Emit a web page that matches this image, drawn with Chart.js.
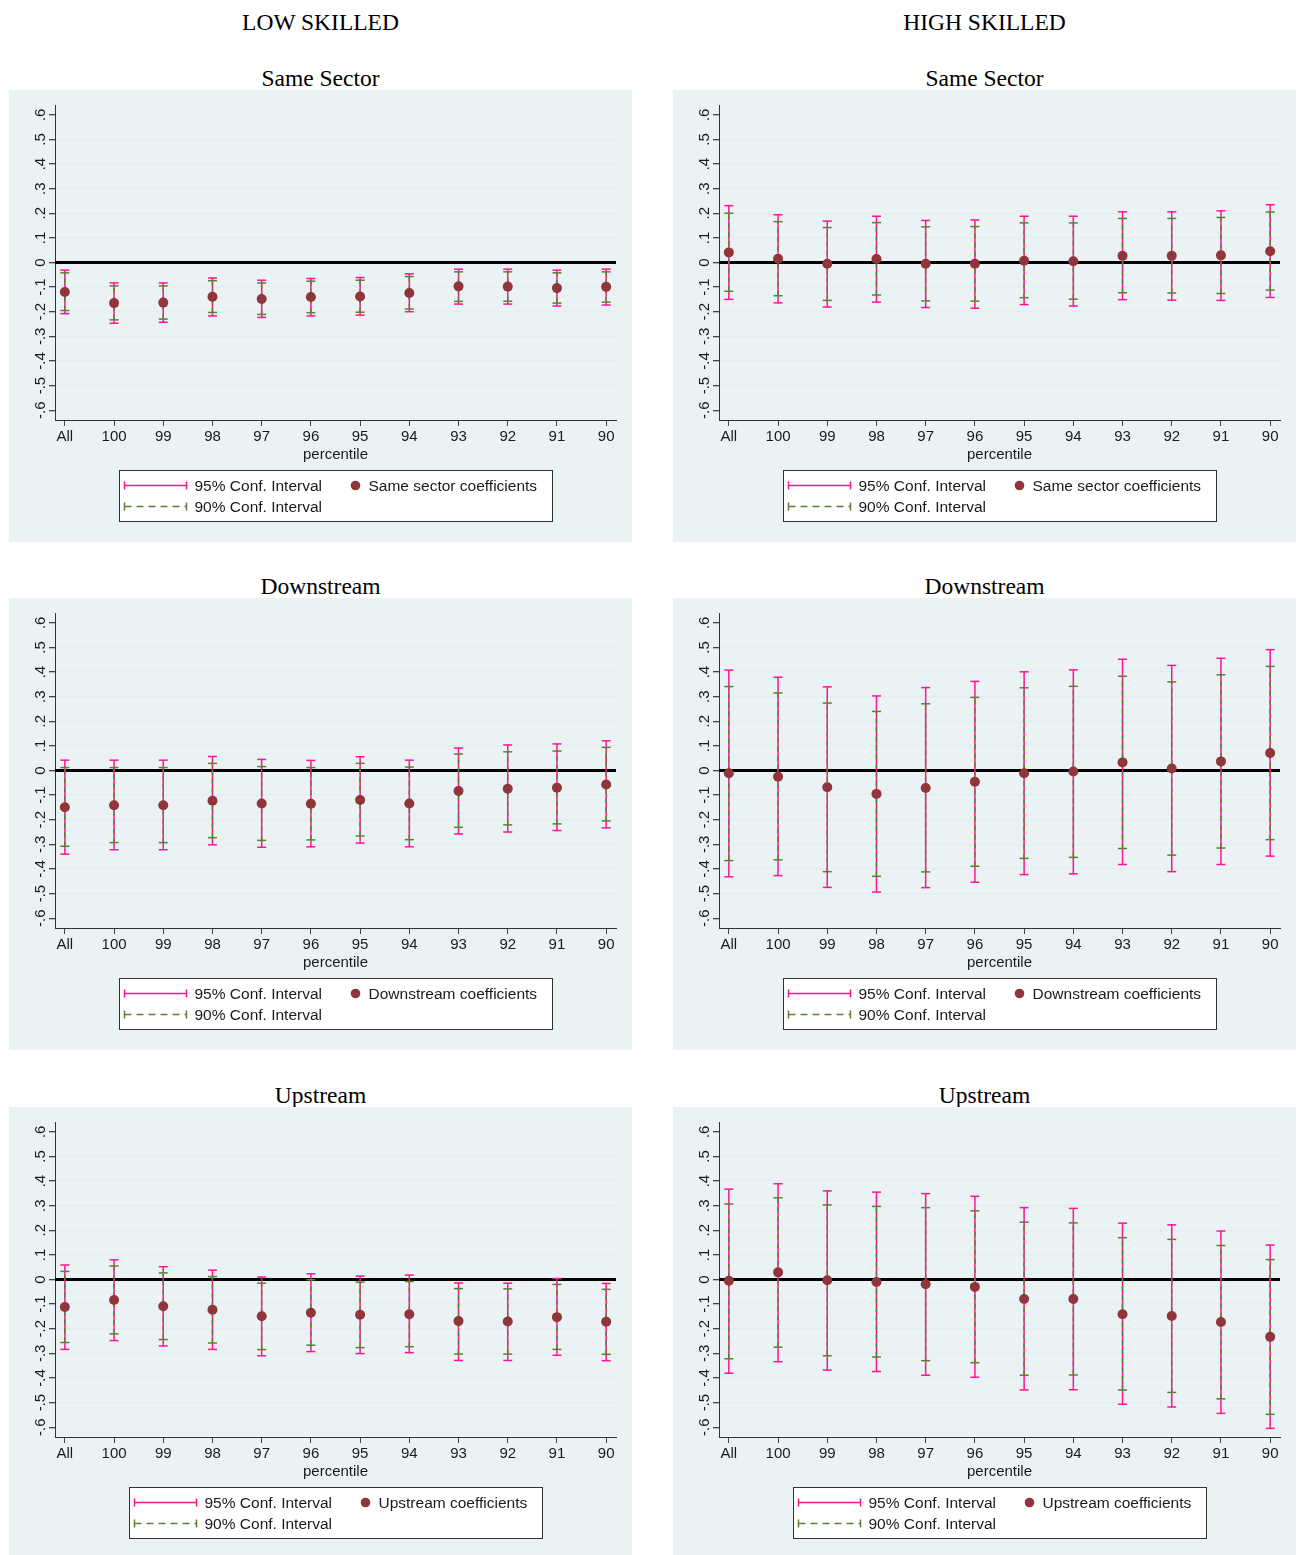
<!DOCTYPE html>
<html lang="en">
<head>
<meta charset="UTF-8">
<title>Coefficients by percentile</title>
<script src="https://cdn.jsdelivr.net/npm/chart.js"></script>
<style>
  html, body { margin: 0; padding: 0; background: #fff; }
  body { width: 1303px; height: 1555px; position: relative; overflow: hidden; }
  .head { position: absolute; width: 623px; text-align: center; color: #000;
          font-family: "Liberation Serif", "Times New Roman", serif; font-size: 23.5px; line-height: 26px; }
  .panel { position: absolute; width: 623px; height: 452px; background: #eaf2f3; }
  .panel canvas { display: block; }
</style>
</head>
<body>
<div class="head" style="left:9px;top:9px">LOW SKILLED</div>
<div class="head" style="left:673px;top:9px">HIGH SKILLED</div>

<div class="head" style="left:9px;top:65px">Same Sector</div>
<div class="head" style="left:673px;top:65px">Same Sector</div>
<div class="panel" style="left:9px;top:90px"><canvas id="lowSame" width="623" height="452"></canvas></div>
<div class="panel" style="left:673px;top:90px"><canvas id="highSame" width="623" height="452"></canvas></div>

<div class="head" style="left:9px;top:573px">Downstream</div>
<div class="head" style="left:673px;top:573px">Downstream</div>
<div class="panel" style="left:9px;top:598px"><canvas id="lowDown" width="623" height="452"></canvas></div>
<div class="panel" style="left:673px;top:598px"><canvas id="highDown" width="623" height="452"></canvas></div>

<div class="head" style="left:9px;top:1082px">Upstream</div>
<div class="head" style="left:673px;top:1082px">Upstream</div>
<div class="panel" style="left:9px;top:1107px"><canvas id="lowUp" width="623" height="452"></canvas></div>
<div class="panel" style="left:673px;top:1107px"><canvas id="highUp" width="623" height="452"></canvas></div>

<script>
// categories on the x axis (left to right)
const percentiles = ['All', '100', '99', '98', '97', '96', '95', '94', '93', '92', '91', '90'];
const yTicks = [-0.6, -0.5, -0.4, -0.3, -0.2, -0.1, 0, 0.1, 0.2, 0.3, 0.4, 0.5, 0.6];
const yTickLabels = ['-.6', '-.5', '-.4', '-.3', '-.2', '-.1', '0', '.1', '.2', '.3', '.4', '.5', '.6'];

// low skilled - same sector
const lowSameCoef = [-0.120, -0.165, -0.163, -0.139, -0.148, -0.140, -0.138, -0.124, -0.097, -0.098, -0.104, -0.099];
const lowSameLo95 = [-0.208, -0.247, -0.243, -0.217, -0.223, -0.217, -0.214, -0.200, -0.169, -0.169, -0.177, -0.173];
const lowSameHi95 = [-0.031, -0.083, -0.083, -0.063, -0.072, -0.065, -0.061, -0.046, -0.027, -0.027, -0.031, -0.027];
const lowSameLo90 = [-0.195, -0.233, -0.230, -0.203, -0.211, -0.204, -0.202, -0.189, -0.158, -0.157, -0.165, -0.161];
const lowSameHi90 = [-0.042, -0.095, -0.095, -0.074, -0.083, -0.076, -0.072, -0.057, -0.038, -0.038, -0.042, -0.038];

// high skilled - same sector
const highSameCoef = [0.041, 0.015, -0.005, 0.014, -0.005, -0.005, 0.007, 0.005, 0.027, 0.027, 0.029, 0.046];
const highSameLo95 = [-0.150, -0.164, -0.181, -0.161, -0.183, -0.186, -0.171, -0.177, -0.151, -0.153, -0.154, -0.142];
const highSameHi95 = [0.231, 0.194, 0.168, 0.188, 0.171, 0.173, 0.188, 0.188, 0.206, 0.206, 0.210, 0.235];
const highSameLo90 = [-0.117, -0.135, -0.154, -0.132, -0.156, -0.157, -0.143, -0.149, -0.123, -0.124, -0.126, -0.112];
const highSameHi90 = [0.200, 0.166, 0.142, 0.162, 0.145, 0.146, 0.161, 0.161, 0.179, 0.179, 0.183, 0.205];

// low skilled - downstream
const lowDownCoef = [-0.149, -0.141, -0.141, -0.123, -0.134, -0.135, -0.120, -0.134, -0.083, -0.074, -0.070, -0.057];
const lowDownLo95 = [-0.340, -0.322, -0.322, -0.302, -0.312, -0.310, -0.295, -0.310, -0.258, -0.250, -0.244, -0.233];
const lowDownHi95 = [0.042, 0.042, 0.042, 0.057, 0.045, 0.041, 0.056, 0.042, 0.091, 0.104, 0.108, 0.121];
const lowDownLo90 = [-0.308, -0.293, -0.293, -0.273, -0.284, -0.282, -0.266, -0.281, -0.231, -0.221, -0.217, -0.205];
const lowDownHi90 = [0.012, 0.012, 0.012, 0.029, 0.016, 0.012, 0.029, 0.014, 0.067, 0.076, 0.079, 0.094];

// high skilled - downstream
const highDownCoef = [-0.011, -0.025, -0.068, -0.095, -0.071, -0.046, -0.011, -0.004, 0.033, 0.008, 0.037, 0.071];
const highDownLo95 = [-0.432, -0.427, -0.475, -0.494, -0.476, -0.454, -0.423, -0.420, -0.382, -0.411, -0.382, -0.348];
const highDownHi95 = [0.408, 0.379, 0.340, 0.303, 0.337, 0.362, 0.401, 0.409, 0.452, 0.427, 0.456, 0.491];
const highDownLo90 = [-0.366, -0.363, -0.411, -0.430, -0.412, -0.389, -0.357, -0.353, -0.317, -0.344, -0.315, -0.281];
const highDownHi90 = [0.341, 0.315, 0.274, 0.240, 0.271, 0.297, 0.336, 0.342, 0.383, 0.360, 0.389, 0.423];

// low skilled - upstream
const lowUpCoef = [-0.112, -0.083, -0.109, -0.123, -0.149, -0.135, -0.143, -0.141, -0.169, -0.171, -0.153, -0.172];
const lowUpLo95 = [-0.284, -0.248, -0.270, -0.284, -0.310, -0.293, -0.301, -0.297, -0.329, -0.329, -0.308, -0.330];
const lowUpHi95 = [0.059, 0.080, 0.052, 0.038, 0.010, 0.023, 0.014, 0.018, -0.014, -0.015, 0.004, -0.016];
const lowUpLo90 = [-0.256, -0.221, -0.244, -0.258, -0.285, -0.267, -0.277, -0.273, -0.303, -0.303, -0.284, -0.304];
const lowUpHi90 = [0.033, 0.055, 0.027, 0.012, -0.015, -0.001, -0.011, -0.008, -0.037, -0.038, -0.020, -0.040];

// high skilled - upstream
const highUpCoef = [-0.005, 0.029, -0.003, -0.010, -0.019, -0.030, -0.079, -0.079, -0.141, -0.148, -0.173, -0.233];
const highUpLo95 = [-0.381, -0.334, -0.368, -0.374, -0.389, -0.397, -0.449, -0.448, -0.507, -0.518, -0.544, -0.605];
const highUpHi95 = [0.367, 0.389, 0.360, 0.355, 0.349, 0.338, 0.292, 0.289, 0.229, 0.222, 0.197, 0.140];
const highUpLo90 = [-0.322, -0.275, -0.310, -0.315, -0.330, -0.338, -0.389, -0.388, -0.449, -0.459, -0.485, -0.548];
const highUpHi90 = [0.307, 0.332, 0.303, 0.297, 0.292, 0.279, 0.233, 0.230, 0.170, 0.163, 0.138, 0.081];

const PINK = 'rgb(255,20,147)';
const GREEN = 'rgb(92,128,50)';
const MAROON = 'rgb(144,53,59)';
const GRID = '#e4edf0';
const SANS = '"Liberation Sans", Arial, sans-serif';

Chart.defaults.font.family = SANS;

// vertical segments lo->hi, with a null point in between so the line breaks
var ciPoints = (lo, hi) => {
    let pts = [];
    lo.forEach((v, i) => {
        pts.push({x: i, y: v}, {x: i, y: hi[i]}, {x: i, y: null});
    });
    return pts;
};

// zero line, rotated y labels and the stata-like legend box
const panelExtras = {
    id: 'panelExtras',
    beforeDatasetsDraw(chart) {
        const {ctx, chartArea: a, scales: {y}} = chart;
        const y0 = y.getPixelForValue(0);
        ctx.save();
        ctx.strokeStyle = '#000';
        ctx.lineWidth = 3;
        ctx.beginPath();
        ctx.moveTo(a.left, y0);
        ctx.lineTo(a.right, y0);
        ctx.stroke();
        ctx.restore();
    },
    afterDraw(chart, args, opts) {
        const {ctx, chartArea: a, scales: {y}} = chart;
        ctx.save();
        ctx.fillStyle = '#1a1a1a';
        ctx.font = '15px ' + SANS;
        ctx.textAlign = 'center';
        ctx.textBaseline = 'alphabetic';
        yTicks.forEach((v, i) => {
            ctx.save();
            ctx.translate(a.left - 10, y.getPixelForValue(v));
            ctx.rotate(-Math.PI / 2);
            ctx.fillText(yTickLabels[i], 0, 0);
            ctx.restore();
        });

        // legend
        ctx.font = '15.5px ' + SANS;
        const w = Math.round(249 + ctx.measureText(opts.label).width + 15);
        const lx = Math.round((a.left + a.right) / 2 - w / 2) + 0.5;
        const ly = Math.round(a.bottom + 50) + 0.5;
        ctx.fillStyle = '#fff';
        ctx.fillRect(lx, ly, w, 51);
        ctx.strokeStyle = '#333';
        ctx.lineWidth = 1;
        ctx.strokeRect(lx, ly, w, 51);

        const seg = (x1, y1, x2, y2) => {
            ctx.beginPath(); ctx.moveTo(x1, y1); ctx.lineTo(x2, y2); ctx.stroke();
        };
        const sample = (yy, color, dash) => {
            ctx.strokeStyle = color;
            ctx.lineWidth = 1.5;
            ctx.setLineDash(dash);
            seg(lx + 5, yy, lx + 67, yy);
            ctx.setLineDash([]);
            seg(lx + 5, yy - 4, lx + 5, yy + 4);
            seg(lx + 67, yy - 4, lx + 67, yy + 4);
        };
        const r1 = ly + 15, r2 = ly + 36;
        sample(r1, PINK, []);
        sample(r2, GREEN, [7, 5]);
        ctx.fillStyle = MAROON;
        ctx.beginPath();
        ctx.arc(lx + 236, r1, 4.8, 0, Math.PI * 2);
        ctx.fill();

        ctx.fillStyle = '#1a1a1a';
        ctx.textAlign = 'left';
        ctx.textBaseline = 'middle';
        ctx.fillText('95% Conf. Interval', lx + 75, r1 + 1);
        ctx.fillText('90% Conf. Interval', lx + 75, r2 + 1);
        ctx.fillText(opts.label, lx + 249, r1 + 1);
        ctx.restore();
    }
};

function makeChart(id, coef, lo95, hi95, lo90, hi90, label) {
    return new Chart(document.getElementById(id), {
        type: 'scatter',
        data: {
            datasets: [
                {
                    label: label,
                    order: 0,
                    data: coef.map((v, i) => ({x: i, y: v})),
                    pointRadius: 5,
                    backgroundColor: MAROON,
                    borderColor: MAROON,
                    borderWidth: 0
                },
                {
                    type: 'line',
                    label: '90% Conf. Interval',
                    order: 1,
                    data: ciPoints(lo90, hi90),
                    showLine: true,
                    spanGaps: false,
                    borderColor: GREEN,
                    borderWidth: 1.5,
                    borderDash: [5, 4],
                    pointStyle: 'line',
                    pointRadius: 4.5,
                    pointBorderColor: GREEN,
                    pointBorderWidth: 1.5
                },
                {
                    type: 'line',
                    label: '95% Conf. Interval',
                    order: 2,
                    data: ciPoints(lo95, hi95),
                    showLine: true,
                    spanGaps: false,
                    borderColor: PINK,
                    borderWidth: 1.5,
                    pointStyle: 'line',
                    pointRadius: 4.5,
                    pointBorderColor: PINK,
                    pointBorderWidth: 1.5
                }
            ]
        },
        options: {
            responsive: false,
            animation: false,
            events: [],
            layout: {padding: {left: 0, right: 16, top: 15, bottom: 0}},
            plugins: {
                legend: {display: false},
                tooltip: {enabled: false},
                panelExtras: {label: label}
            },
            scales: {
                x: {
                    type: 'linear',
                    min: -0.2,
                    max: 11.2,
                    afterBuildTicks: (s) => { s.ticks = percentiles.map((c, i) => ({value: i})); },
                    afterFit: (s) => { s.height = 122; },
                    ticks: {
                        callback: (v) => percentiles[v],
                        font: {size: 15},
                        color: '#1a1a1a',
                        padding: 2,
                        maxRotation: 0
                    },
                    grid: {drawOnChartArea: false, drawTicks: true, tickLength: 6, tickColor: '#444'},
                    border: {display: true, color: '#333', width: 1},
                    title: {display: true, text: 'percentile', font: {size: 15}, color: '#1a1a1a',
                            padding: {top: 0, bottom: 78}}
                },
                y: {
                    min: -0.64,
                    max: 0.64,
                    afterBuildTicks: (s) => { s.ticks = yTicks.map(v => ({value: v})); },
                    afterFit: (s) => { s.width = 46; },
                    ticks: {display: false},
                    grid: {
                        color: (c) => (c.tick && Math.abs(c.tick.value) > 0.55) ? 'rgba(0,0,0,0)' : GRID,
                        lineWidth: 1.3,
                        drawTicks: true,
                        tickLength: 6,
                        tickColor: '#444'
                    },
                    border: {display: true, color: '#333', width: 1}
                }
            }
        },
        plugins: [panelExtras]
    });
}

makeChart('lowSame', lowSameCoef, lowSameLo95, lowSameHi95, lowSameLo90, lowSameHi90, 'Same sector coefficients');
makeChart('highSame', highSameCoef, highSameLo95, highSameHi95, highSameLo90, highSameHi90, 'Same sector coefficients');
makeChart('lowDown', lowDownCoef, lowDownLo95, lowDownHi95, lowDownLo90, lowDownHi90, 'Downstream coefficients');
makeChart('highDown', highDownCoef, highDownLo95, highDownHi95, highDownLo90, highDownHi90, 'Downstream coefficients');
makeChart('lowUp', lowUpCoef, lowUpLo95, lowUpHi95, lowUpLo90, lowUpHi90, 'Upstream coefficients');
makeChart('highUp', highUpCoef, highUpLo95, highUpHi95, highUpLo90, highUpHi90, 'Upstream coefficients');
</script>
</body>
</html>
